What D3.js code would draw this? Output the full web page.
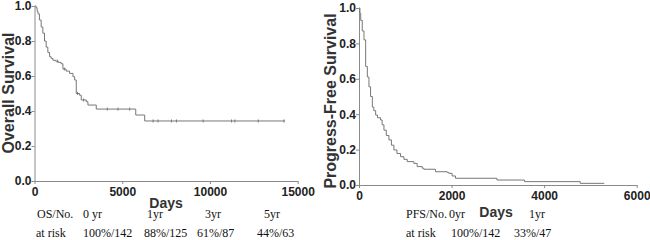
<!DOCTYPE html>
<html>
<head>
<meta charset="utf-8">
<script src="https://cdn.jsdelivr.net/npm/d3@7"></script>
<style>
  body { margin: 0; background: #fff; }
  svg { display: block; }
</style>
</head>
<body>
<svg id="chart" width="650" height="240"></svg>
<script>
// overall survival curve (days, survival)
const osDays = [0, 90, 150, 200, 280, 380, 475, 570, 665, 760, 860, 950, 1050, 1200, 1350, 1520, 1620, 1800, 2000, 2190, 2290, 2380, 2570, 2665, 2950, 3045, 3520, 5770, 6280, 14280];
const osSurv = [1, 0.99, 0.97, 0.955, 0.92, 0.88, 0.845, 0.80, 0.765, 0.735, 0.71, 0.70, 0.69, 0.685, 0.678, 0.67, 0.64, 0.628, 0.615, 0.596, 0.577, 0.50, 0.49, 0.463, 0.453, 0.434, 0.411, 0.377, 0.343, 0.343];
const osCensored = [1300, 1700, 2450, 2800, 4150, 4760, 5425, 6755, 7040, 7805, 8090, 9610, 11230, 11420, 12750, 14220];

// progression-free survival curve
const pfsDays = [0, 20, 37, 70, 108, 144, 180, 215, 250, 288, 320, 360, 400, 467, 500, 539, 590, 646, 700, 754, 820, 898, 970, 1042, 1185, 1257, 1366, 1400, 1652, 1905, 1940, 2012, 2084, 2980, 3577, 4778, 5300];
const pfsSurv = [1, 0.97, 0.93, 0.87, 0.82, 0.67, 0.61, 0.555, 0.50, 0.44, 0.42, 0.395, 0.38, 0.367, 0.34, 0.31, 0.28, 0.255, 0.225, 0.198, 0.178, 0.16, 0.145, 0.132, 0.122, 0.104, 0.095, 0.089, 0.075, 0.071, 0.066, 0.051, 0.038, 0.028, 0.019, 0.0094, 0.0094];

const yTicks = [0, 0.2, 0.4, 0.6, 0.8, 1.0];
const osXTicks = [0, 5000, 10000, 15000];
const pfsXTicks = [0, 2000, 4000, 6000];

// at-risk tables
const osHead = ["OS/No.", "0 yr", "1yr", "3yr", "5yr"];
const osRisk = ["at risk", "100%/142", "88%/125", "61%/87", "44%/63"];
const pfsHead = ["PFS/No.", "0yr", "1yr"];
const pfsRisk = ["at risk", "100%/142", "33%/47"];

const sans = "'Liberation Sans', Arial, sans-serif";
const serif = "'Liberation Serif', 'Times New Roman', serif";

const svg = d3.select("#chart");

function styleAxis(sel) {
  sel.selectAll("path, line").attr("stroke", "#8a8a8a");
  sel.selectAll("text")
    .attr("font-family", sans)
    .attr("font-size", 12)
    .attr("font-weight", "bold")
    .attr("fill", "#222");
}

function drawPanel(opt) {
  const x = d3.scaleLinear().domain(opt.xDomain).range(opt.xRange);
  const y = d3.scaleLinear().domain([0, 1]).range(opt.yRange);
  const g = svg.append("g");

  g.append("g")
    .attr("transform", "translate(0," + opt.yRange[0] + ")")
    .call(d3.axisBottom(x).tickValues(opt.xTicks).tickFormat(d3.format("d")).tickSize(3).tickPadding(3).tickSizeOuter(0))
    .call(styleAxis);

  g.append("g")
    .attr("transform", "translate(" + opt.xRange[0] + ",0)")
    .call(d3.axisLeft(y).tickValues(yTicks).tickFormat(d3.format(".1f")).tickSize(3).tickPadding(0).tickSizeOuter(0))
    .call(styleAxis);

  const pts = opt.days.map((d, i) => [d, opt.surv[i]]);
  const line = d3.line()
    .x(d => x(d[0]))
    .y(d => y(d[1]))
    .curve(d3.curveStepAfter);

  g.append("path")
    .datum(pts)
    .attr("d", line)
    .attr("fill", "none")
    .attr("stroke", "#777")
    .attr("stroke-width", 1);

  // censor marks
  if (opt.censored) {
    const survAt = t => {
      let s = 1;
      for (let i = 0; i < opt.days.length; i++) {
        if (opt.days[i] <= t) s = opt.surv[i];
      }
      return s;
    };
    g.selectAll("line.cens")
      .data(opt.censored)
      .enter().append("line")
      .attr("class", "cens")
      .attr("x1", d => x(d)).attr("x2", d => x(d))
      .attr("y1", d => y(survAt(d)) - 1.5)
      .attr("y2", d => y(survAt(d)) + 1.5)
      .attr("stroke", "#777");
  }

  // rotated label, baseline on the right-hand side
  g.append("text")
    .attr("transform", "translate(" + opt.yLabX + "," + opt.yLabY + ") rotate(-90)")
    .attr("text-anchor", "middle")
    .attr("font-family", sans)
    .attr("font-weight", "bold")
    .attr("font-size", 16)
    .attr("fill", "#333")
    .text(opt.yLabel);

  g.append("text")
    .attr("x", opt.xLabX)
    .attr("y", opt.xLabY)
    .attr("text-anchor", "middle")
    .attr("dominant-baseline", "central")
    .attr("font-family", sans)
    .attr("font-weight", "bold")
    .attr("font-size", 14)
    .attr("fill", "#333")
    .text("Days");

  opt.head.forEach((t, i) => {
    g.append("text")
      .attr("font-family", serif).attr("font-size", 12).attr("fill", "#111")
      .attr("x", opt.headX[i]).attr("y", 218).text(t);
  });
  opt.risk.forEach((t, i) => {
    g.append("text")
      .attr("font-family", serif).attr("font-size", 12).attr("fill", "#111")
      .attr("x", opt.riskX[i]).attr("y", 237).text(t);
  });
}

drawPanel({
  xDomain: [0, 15000], xRange: [34.5, 297.7], yRange: [181, 6],
  xTicks: osXTicks, days: osDays, surv: osSurv, censored: osCensored,
  yLabel: "Overall Survival", yLabX: 14, yLabY: 93,
  xLabX: 166, xLabY: 203,
  head: osHead, headX: [37, 83, 147, 205, 264],
  risk: osRisk, riskX: [36, 83, 144, 197, 257]
});

drawPanel({
  xDomain: [0, 6000], xRange: [359, 636.7], yRange: [185, 8],
  xTicks: pfsXTicks, days: pfsDays, surv: pfsSurv,
  yLabel: "Progress-Free Survival", yLabX: 336, yLabY: 101,
  xLabX: 496, xLabY: 212,
  head: pfsHead, headX: [406, 449, 529],
  risk: pfsRisk, riskX: [406, 451, 514]
});
</script>
</body>
</html>
